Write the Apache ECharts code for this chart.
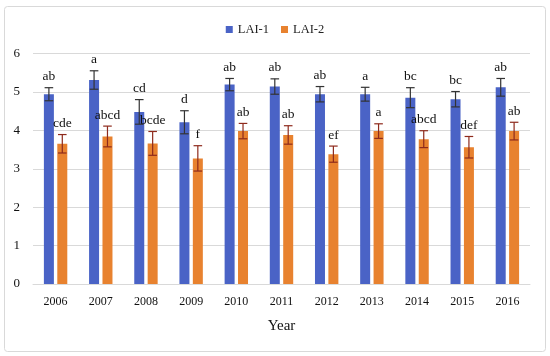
<!DOCTYPE html>
<html><head><meta charset="utf-8">
<script src="https://cdn.jsdelivr.net/npm/echarts@6/dist/echarts.min.js"></script>
<style>html,body{margin:0;padding:0;background:#fff}#c{width:550px;height:356px}</style>
</head><body><div id="c"></div>
<script>
const years = ['2006','2007','2008','2009','2010','2011','2012','2013','2014','2015','2016'];
const lai1 = [4.94,5.31,4.48,4.21,5.19,5.14,4.94,4.94,4.85,4.81,5.12];
const lai1Err = [0.17,0.24,0.32,0.30,0.16,0.20,0.20,0.18,0.26,0.20,0.23];
const lai1Letters = ['ab','a','cd','d','ab','ab','ab','a','bc','bc','ab'];
const lai2 = [3.65,3.84,3.66,3.27,3.98,3.88,3.38,3.98,3.77,3.56,3.98];
const lai2Err = [0.24,0.27,0.31,0.33,0.20,0.24,0.21,0.19,0.22,0.28,0.23];
const lai2Letters = ['cde','abcd','bcde','f','ab','ab','ef','a','abcd','def','ab'];
const yTicks = [0,1,2,3,4,5,6];

const FONT = '"Liberation Serif", "Times New Roman", serif';
const chart = echarts.init(document.getElementById('c'));

function errSeries(vals, errs, letters, offset, color) {
  return {
    type: 'custom',
    silent: true,
    z: 5,
    data: vals.map((v, i) => [i, v, errs[i]]),
    renderItem: function (params, api) {
      const i = api.value(0), v = api.value(1), e = api.value(2);
      const letter = letters[i];
      const top = api.coord([i, v + e]);
      const bot = api.coord([i, v - e]);
      const x = top[0] + offset;
      const hw = 4.3;
      const st = { stroke: color, lineWidth: 1.2 };
      return {
        type: 'group',
        children: [
          { type: 'line', shape: { x1: x, y1: top[1], x2: x, y2: bot[1] }, style: st },
          { type: 'line', shape: { x1: x - hw, y1: top[1], x2: x + hw, y2: top[1] }, style: st },
          { type: 'line', shape: { x1: x - hw, y1: bot[1], x2: x + hw, y2: bot[1] }, style: st },
          { type: 'text', x: x, y: top[1] - 4, style: { text: letter, fill: '#111', font: '13.5px ' + FONT, textAlign: 'center', textVerticalAlign: 'bottom' } }
        ]
      };
    }
  };
}

chart.setOption({
  animation: false,
  backgroundColor: '#fff',
  graphic: [{ type: 'rect', shape: { x: 4.5, y: 6.5, width: 541, height: 345, r: 3 }, style: { fill: 'none', stroke: '#d9d9d9', lineWidth: 1 }, silent: true }],
  legend: {
    top: 18, left: 'center', itemWidth: 7, itemHeight: 7, itemGap: 12, icon: 'rect',
    textStyle: { fontFamily: FONT, fontSize: 12.5, color: '#222' },
    data: ['LAI-1', 'LAI-2']
  },
  grid: { left: 33, right: 20, top: 53.5, bottom: 72 },
  xAxis: {
    type: 'category', data: years,
    name: 'Year', nameLocation: 'middle', nameGap: 35,
    nameTextStyle: { fontFamily: FONT, fontSize: 15, color: '#111' },
    axisLine: { lineStyle: { color: '#d9d9d9' } },
    axisTick: { show: false },
    axisLabel: { fontFamily: FONT, fontSize: 12, color: '#111', margin: 12 }
  },
  yAxis: {
    type: 'value', min: yTicks[0], max: yTicks[yTicks.length - 1], interval: 1,
    axisLine: { show: false }, axisTick: { show: false },
    axisLabel: { fontFamily: FONT, fontSize: 13, color: '#111', margin: 13 },
    splitLine: { lineStyle: { color: '#d9d9d9' } }
  },
  series: [
    { name: 'LAI-1', type: 'bar', data: lai1, barWidth: 10, barGap: '34%', itemStyle: { color: '#4a63c6' } },
    { name: 'LAI-2', type: 'bar', data: lai2, barWidth: 10, barGap: '34%', itemStyle: { color: '#e8822f' } },
    errSeries(lai1, lai1Err, lai1Letters, -6.7, '#333'),
    errSeries(lai2, lai2Err, lai2Letters, 6.7, '#8e2a1c')
  ]
});
</script></body></html>
